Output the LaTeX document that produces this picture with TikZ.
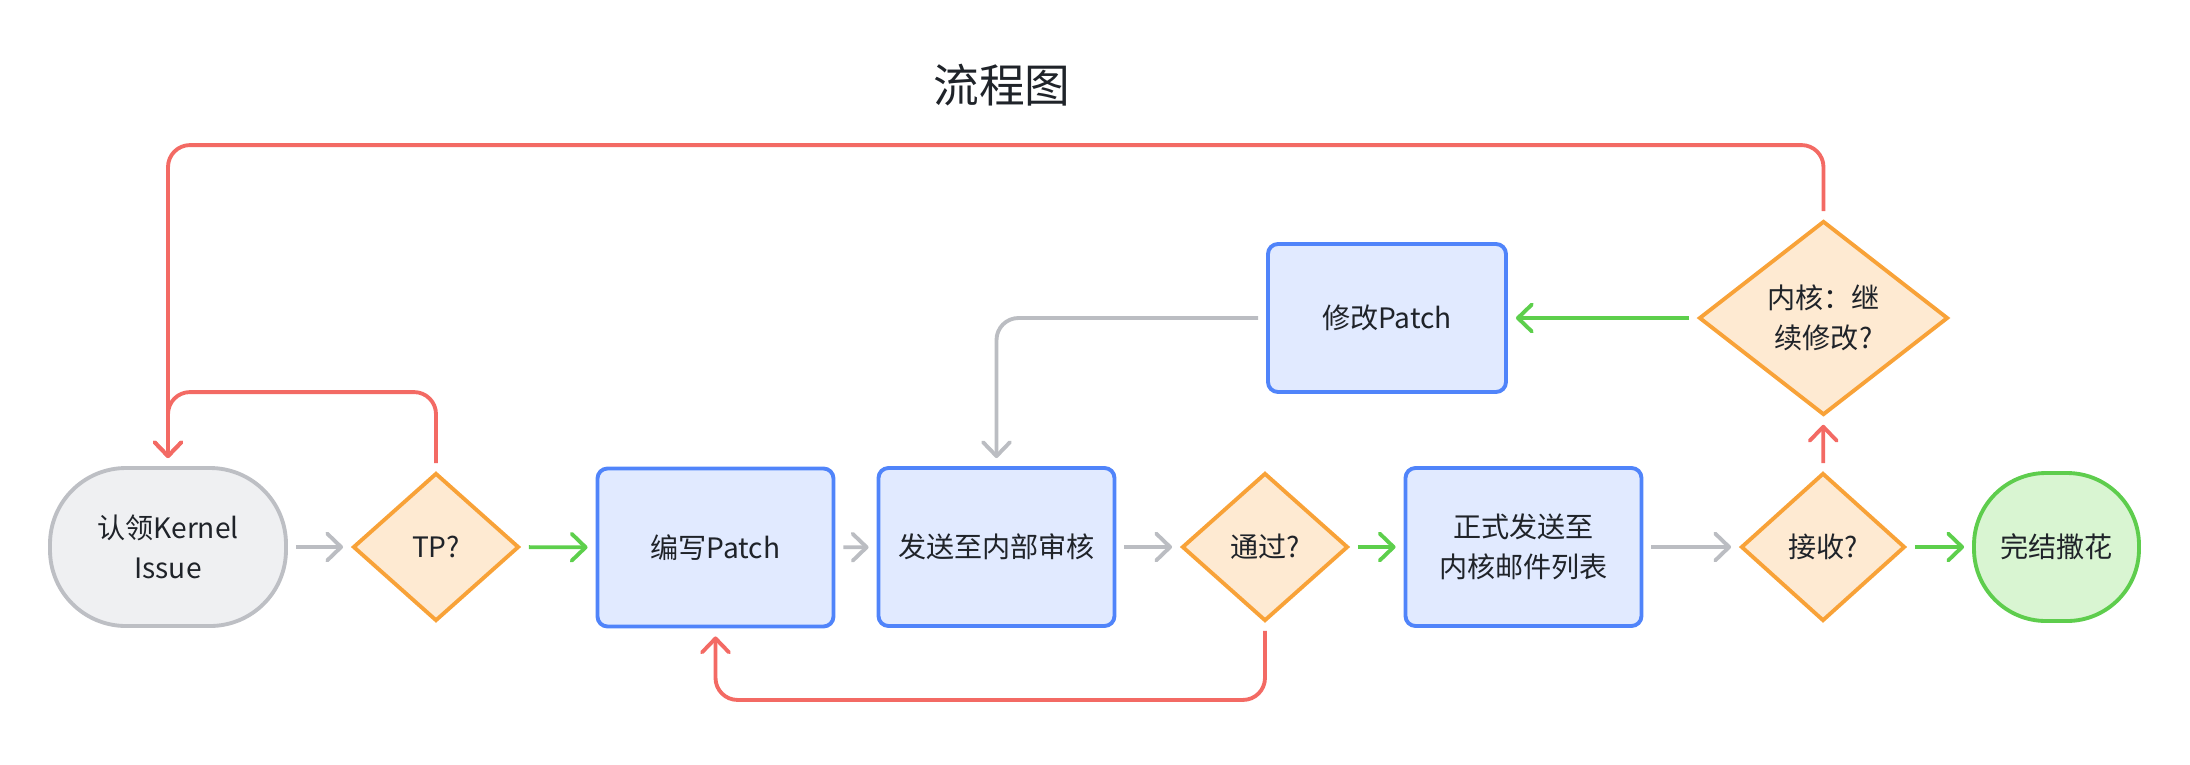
\documentclass[tikz,border=0pt]{standalone}
\usepackage{fontspec}
\usepackage{xcolor}
\usepackage{tikz}
\usetikzlibrary{shapes.geometric, arrows.meta, positioning, calc}
\newfontfamily\cjk{Noto Sans CJK SC}
\definecolor{flowtext}{RGB}{31, 35, 41}
\definecolor{startgray}{RGB}{189, 191, 196}
\definecolor{startgrayfill}{RGB}{239, 240, 242}
\definecolor{stepblue}{RGB}{80, 132, 250}
\definecolor{stepbluefill}{RGB}{225, 234, 255}
\definecolor{askorange}{RGB}{248, 162, 56}
\definecolor{askorangefill}{RGB}{254, 234, 210}
\definecolor{endgreen}{RGB}{94, 205, 77}
\definecolor{endgreenfill}{RGB}{217, 245, 210}
\definecolor{linegray}{RGB}{187, 189, 194}
\definecolor{linegreen}{RGB}{93, 207, 76}
\definecolor{linered}{RGB}{243, 106, 100}

\begin{document}
\begin{tikzpicture}[
    startend/.style={rectangle, rounded corners=0.76cm, minimum width=2.36cm, minimum height=1.58cm,
                     draw=startgray, fill=startgrayfill, line width=1.1pt, text=flowtext,
                     font=\cjk\fontsize{8pt}{11.5pt}\selectfont, align=center},
    process/.style={rectangle, rounded corners=0.1cm, minimum width=2.36cm, minimum height=1.58cm,
                    draw=stepblue, fill=stepbluefill, line width=1.1pt, text=flowtext,
                    font=\cjk\fontsize{8pt}{11.5pt}\selectfont, align=center},
    decision/.style={diamond, inner sep=0pt, minimum width=1.66cm, minimum height=1.48cm,
                     draw=askorange, fill=askorangefill, line width=1.1pt, text=flowtext,
                     font=\cjk\fontsize{8pt}{11.5pt}\selectfont, align=center},
    link/.style={line width=1.1pt, rounded corners=0.22cm, shorten <=0.08cm, shorten >=0.08cm,
                 -{Straight Barb[length=1.4mm, width=2.7mm, round]}}
]
\useasboundingbox (0,0) rectangle (21.9,-7.64);

% Title
\node[text=flowtext, font=\cjk\fontsize{13pt}{16pt}\selectfont] (title) at (10.02,-0.85) {流程图};

% Main row
\node[startend] (issue) at (1.68,-5.47) {认领Kernel\\Issue};
\node[decision] (tp) at (4.36,-5.47) {TP?};
\node[process] (write) at (7.155,-5.475) {编写Patch};
\node[process] (review) at (9.965,-5.47) {发送至内部审核};
\node[decision] (pass) at (12.65,-5.47) {通过?};
\node[process] (send) at (15.235,-5.47) {正式发送至\\内核邮件列表};
\node[decision, minimum width=1.64cm] (accept) at (18.23,-5.47) {接收?};
\node[startend, rounded corners=0.72cm, minimum width=1.65cm, minimum height=1.48cm,
      draw=endgreen, fill=endgreenfill] (done) at (20.565,-5.47) {完结撒花};

% Upper row
\node[process, minimum width=2.38cm, minimum height=1.48cm] (modify) at (13.87,-3.18) {修改Patch};
\node[decision, minimum width=2.49cm, minimum height=1.94cm] (cont) at (18.235,-3.18) {内核：继\\续修改?};

% Forward links
\draw[link, linegray] (issue) -- (tp);
\draw[link, linegreen] (tp) -- (write);
\draw[link, linegray] (write) -- (review);
\draw[link, linegray] (review) -- (pass);
\draw[link, linegreen] (pass) -- (send);
\draw[link, linegray] (send) -- (accept);
\draw[link, linegreen] (accept) -- (done);
\draw[link, linered] (accept) -- (cont);
\draw[link, linegreen] (cont) -- (modify);
\draw[link, linegray] (modify.west) -| (review.north);

% Links going back
\draw[link, linered] (tp.north) -- ++(0,0.79) -| (issue.north);
\draw[link, linered] (cont.north) -- ++(0,0.74) -| (issue.north);
\draw[link, linered] (pass.south) -- ++(0,-0.77) -| (write.south);

\end{tikzpicture}
\end{document}
